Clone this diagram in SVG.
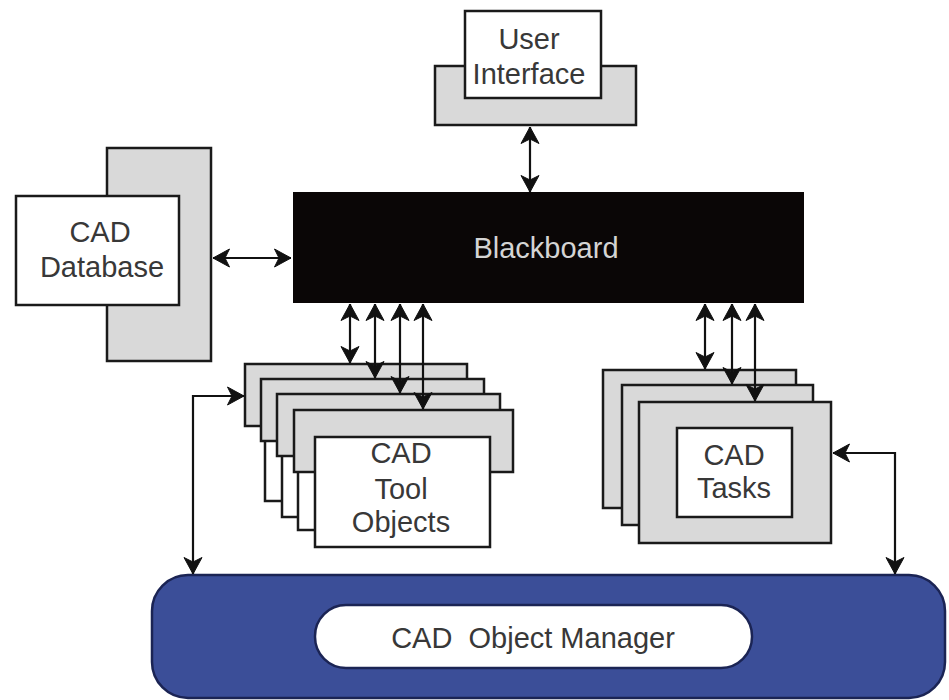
<svg xmlns="http://www.w3.org/2000/svg" width="949" height="700" viewBox="0 0 949 700">
<defs>
<style>
.g{fill:#d9d9d9;stroke:#1a1a1a;stroke-width:2.5}
.w{fill:#ffffff;stroke:#1a1a1a;stroke-width:2.5}
.t{font-family:"Liberation Sans",Arial,sans-serif;font-size:29px;fill:#383838;text-anchor:middle}
.c{fill:none;stroke:#111;stroke-width:2.2;marker-start:url(#ah);marker-end:url(#ah)}
</style>
<marker id="ah" viewBox="0 0 18 20" refX="17" refY="10" markerWidth="18" markerHeight="20" markerUnits="userSpaceOnUse" orient="auto-start-reverse">
<path d="M0.5,1 L17,10 L0.5,19 L5,10 z" fill="#111" stroke="#111" stroke-width="1" stroke-linejoin="miter"/>
</marker>
</defs>
<rect width="949" height="700" fill="#ffffff"/>

<g id="user-interface">
<rect class="g" x="435" y="66" width="201" height="59"/>
<rect class="w" x="465" y="11" width="136" height="87"/>
<text class="t" x="529" y="49">User</text>
<text class="t" x="529" y="84">Interface</text>
</g>

<g id="cad-database">
<rect class="g" x="107" y="148" width="104" height="213"/>
<rect class="w" x="16" y="196" width="163" height="109"/>
<text class="t" x="100" y="242">CAD</text>
<text class="t" x="102" y="277">Database</text>
</g>

<g id="blackboard">
<rect x="294" y="193" width="509" height="109" fill="#0a0606" stroke="#0a0606" stroke-width="2"/>
<text class="t" x="546" y="258" style="fill:#d4d4d4">Blackboard</text>
</g>

<g id="cad-tool-objects">
<rect class="g" x="245" y="364" width="222" height="62"/>
<rect class="w" x="265" y="391" width="175" height="110"/>
<rect class="g" x="261" y="379" width="223" height="62"/>
<rect class="w" x="282" y="407" width="175" height="110"/>
<rect class="g" x="277" y="394" width="223" height="62"/>
<rect class="w" x="298" y="420" width="175" height="110"/>
<rect class="g" x="294" y="410" width="219" height="62"/>
<rect class="w" x="315" y="437" width="175" height="110"/>
<text class="t" x="401" y="463">CAD</text>
<text class="t" x="401" y="499">Tool</text>
<text class="t" x="401" y="532">Objects</text>
</g>

<g id="cad-tasks">
<rect class="g" x="603" y="370" width="193" height="138"/>
<rect class="g" x="622" y="385" width="191" height="140"/>
<rect class="g" x="639" y="402" width="192" height="141"/>
<rect class="w" x="677" y="428" width="115" height="89"/>
<text class="t" x="734" y="465">CAD</text>
<text class="t" x="734" y="498">Tasks</text>
</g>

<g id="cad-object-manager">
<rect x="152" y="575" width="793" height="123" rx="36" ry="36" fill="#3b4e98" stroke="#1b2454" stroke-width="2.5"/>
<rect x="315" y="605" width="437" height="63" rx="31" ry="31" fill="#ffffff" stroke="#1b2454" stroke-width="2.5"/>
<text class="t" x="533" y="648" xml:space="preserve">CAD  Object Manager</text>
</g>

<g id="connectors">
<line class="c" x1="530" y1="127" x2="530" y2="192"/>
<line class="c" x1="213" y1="258" x2="291" y2="258"/>
<line class="c" x1="350" y1="304" x2="350" y2="363"/>
<line class="c" x1="375" y1="304" x2="375" y2="378"/>
<line class="c" x1="400" y1="304" x2="400" y2="393"/>
<line class="c" x1="423" y1="304" x2="423" y2="409"/>
<line class="c" x1="705" y1="304" x2="705" y2="369"/>
<line class="c" x1="732" y1="304" x2="732" y2="384"/>
<line class="c" x1="755" y1="304" x2="755" y2="401"/>
<path class="c" d="M244,396 H193 V574"/>
<path class="c" d="M833,453 H895 V574"/>
</g>
</svg>
